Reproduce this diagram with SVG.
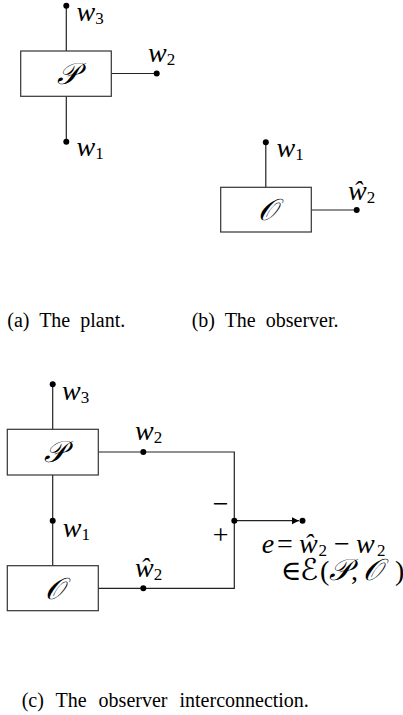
<svg xmlns="http://www.w3.org/2000/svg" width="403" height="715" viewBox="0 0 403 715">
<style>
.ln{stroke:#222;stroke-width:1.2;fill:none}
.bx{stroke:#333;stroke-width:1.2;fill:#fff}
.dot{fill:#000}
.m{font-family:"Liberation Serif","DejaVu Serif",serif;font-style:italic;font-size:28px;fill:#000}
.sub{font-style:normal;font-size:17px}
.scr{font-family:"DejaVu Serif","DejaVu Sans","Liberation Serif",serif;font-style:italic;font-size:30px;fill:#000}
.rm{font-family:"Liberation Serif","DejaVu Serif",serif;font-size:28px;fill:#000}
.cap{font-family:"Liberation Serif",serif;font-size:20px;fill:#000;word-spacing:5px}
</style>
<defs>
<marker id="arr" markerWidth="8" markerHeight="8" refX="7" refY="3.5" orient="auto" markerUnits="userSpaceOnUse">
<path d="M0,0 L7,3.5 L0,7 Z" fill="#000"/>
</marker>
</defs>

<!-- Panel (a) -->
<g id="connectors-a">
<line class="ln" x1="66.3" y1="6" x2="66.3" y2="51"/>
<line class="ln" x1="66.3" y1="96.3" x2="66.3" y2="141.7"/>
<line class="ln" x1="111.3" y1="73.5" x2="156.7" y2="73.5"/>
</g>
<g id="plant-a">
<rect class="bx" x="20.7" y="51" width="90.6" height="45.3"/>
<text class="scr" x="68" y="84" text-anchor="middle">𝒫</text>
</g>
<g id="port-a-w3">
<circle class="dot" cx="66.3" cy="5.8" r="3"/>
<text class="m" x="76.5" y="21">w<tspan class="sub" dy="3">3</tspan></text>
</g>
<g id="port-a-w2">
<circle class="dot" cx="156.7" cy="73.5" r="3"/>
<text class="m" x="148" y="61.5">w<tspan class="sub" dy="3">2</tspan></text>
</g>
<g id="port-a-w1">
<circle class="dot" cx="66.3" cy="141.7" r="3"/>
<text class="m" x="76.5" y="156">w<tspan class="sub" dy="3">1</tspan></text>
</g>

<!-- Panel (b) -->
<g id="connectors-b">
<line class="ln" x1="265.8" y1="142.3" x2="265.8" y2="187.3"/>
<line class="ln" x1="311.3" y1="210" x2="356.7" y2="210"/>
</g>
<g id="observer-b">
<rect class="bx" x="220.7" y="187.3" width="90.6" height="44.7"/>
<text class="scr" x="267" y="220" text-anchor="middle">𝒪</text>
</g>
<g id="port-b-w1">
<circle class="dot" cx="265.8" cy="142.3" r="3"/>
<text class="m" x="276.5" y="157">w<tspan class="sub" dy="3">1</tspan></text>
</g>
<g id="port-b-w2hat">
<circle class="dot" cx="356.7" cy="210" r="3"/>
<text class="m" x="348" y="200">ŵ<tspan class="sub" dy="3">2</tspan></text>
</g>

<text class="cap" x="7.3" y="326.5">(a) The plant.</text>
<text class="cap" x="191.7" y="326.5">(b) The observer.</text>

<!-- Panel (c) -->
<g id="connectors-c">
<line class="ln" x1="52.7" y1="384.3" x2="52.7" y2="429.3"/>
<line class="ln" x1="52.7" y1="475" x2="52.7" y2="565.7"/>
<polyline class="ln" points="98.3,452 234.3,452 234.3,588.3 98.3,588.3"/>
<line class="ln" x1="234.3" y1="520.7" x2="299" y2="520.7" marker-end="url(#arr)"/>
</g>
<g id="plant-c">
<rect class="bx" x="7.3" y="429.3" width="91" height="45.7"/>
<text class="scr" x="54.5" y="462" text-anchor="middle">𝒫</text>
</g>
<g id="observer-c">
<rect class="bx" x="7.3" y="565.7" width="91" height="45"/>
<text class="scr" x="54" y="598.5" text-anchor="middle">𝒪</text>
</g>
<g id="port-c-w3">
<circle class="dot" cx="52.7" cy="384.3" r="3"/>
<text class="m" x="62" y="400">w<tspan class="sub" dy="3">3</tspan></text>
</g>
<g id="port-c-w1">
<circle class="dot" cx="52.7" cy="520.7" r="3"/>
<text class="m" x="62.7" y="536.5">w<tspan class="sub" dy="3">1</tspan></text>
</g>
<g id="port-c-w2">
<circle class="dot" cx="143.3" cy="452" r="3"/>
<text class="m" x="135" y="440">w<tspan class="sub" dy="3">2</tspan></text>
</g>
<g id="port-c-w2hat">
<circle class="dot" cx="143.3" cy="588.3" r="3"/>
<text class="m" x="135" y="576.5">ŵ<tspan class="sub" dy="3">2</tspan></text>
</g>
<g id="junction">
<circle class="dot" cx="234.3" cy="520.7" r="3"/>
<text class="rm" x="220.7" y="512.5" text-anchor="middle">−</text>
<text class="rm" x="220.7" y="544" text-anchor="middle">+</text>
</g>
<g id="output-e">
<circle class="dot" cx="302.5" cy="520.7" r="3"/>
<text class="m" y="553"><tspan x="261.7">e</tspan><tspan x="277" font-style="normal">=</tspan><tspan x="299">ŵ</tspan><tspan class="sub" x="318.5" dy="3">2</tspan><tspan x="334" dy="-3" font-style="normal">−</tspan><tspan x="356">w</tspan><tspan class="sub" x="377" dy="3">2</tspan></text>
<text class="m" y="580"><tspan x="280.7" font-style="normal">∈</tspan><tspan x="300" class="scr" font-size="26px">ℰ</tspan><tspan x="320" font-style="normal">(</tspan><tspan x="329" class="scr" font-size="28px">𝒫</tspan><tspan x="351" font-style="normal">,</tspan><tspan x="363" class="scr" font-size="28px">𝒪</tspan><tspan x="395" font-style="normal">)</tspan></text>
</g>

<text class="cap" x="21.7" y="706.5" style="word-spacing:7px">(c) The observer interconnection.</text>
</svg>
